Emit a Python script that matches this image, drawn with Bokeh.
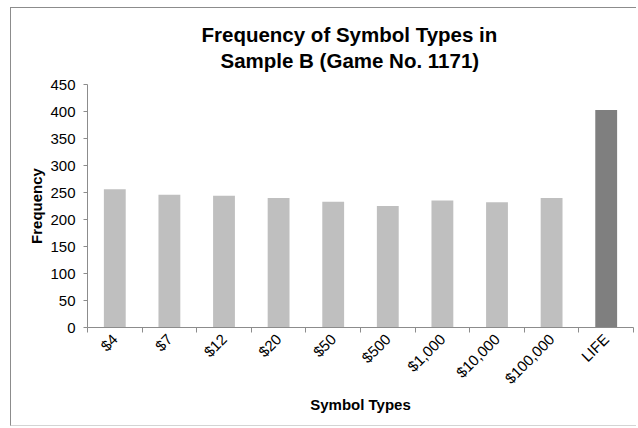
from math import pi

from bokeh.plotting import figure
from bokeh.models import (ColumnDataSource, Range1d, LinearAxis, FixedTicker, Title)
from bokeh.embed import file_html
from bokeh.resources import INLINE

# ---- data ----
categories = ["$4", "$7", "$12", "$20", "$50", "$500", "$1,000", "$10,000", "$100,000", "LIFE"]
frequencies = [256, 246, 244, 240, 233, 225, 235, 232, 240, 403]
y_ticks = [0, 50, 100, 150, 200, 250, 300, 350, 400, 450]
title_lines = ["Frequency of Symbol Types in", "Sample B (Game No. 1171)"]
x_label = "Symbol Types"
y_label = "Frequency"
highlight = "LIFE"

# ---- styles ----
FONT = "Liberation Sans"
BAR = "#BFBFBF"
BAR_HI = "#7F7F7F"
AXIS = "#8C8C8C"

n = len(categories)
centers = [i + 0.5 for i in range(n)]
bounds = list(range(n + 1))
colors = [BAR_HI if c == highlight else BAR for c in categories]
src = ColumnDataSource(dict(x=centers, cat=categories, freq=frequencies, color=colors))

p = figure(x_range=Range1d(0, n), y_range=Range1d(y_ticks[0], y_ticks[-1]),
           width=626, height=419, output_backend="svg", toolbar_location=None,
           x_axis_location=None, y_axis_location=None,
           min_border_left=76, min_border_right=4, min_border_top=76, min_border_bottom=100)
p.title.text = title_lines[0]
p.title.align = "left"
p.title.offset = 114
p.title.text_font = FONT
p.title.text_font_size = "20.5px"
p.title.text_font_style = "bold"
p.title.text_color = "black"
p.title.standoff = -22
p.outline_line_color = None
p.grid.visible = False
p.background_fill_color = "white"
p.border_fill_color = "white"
p.styles = {"margin-left": "10px", "margin-top": "7px",
            "border-left": "1px solid #8c8c8c", "border-top": "1px solid #8c8c8c",
            "border-bottom": "1px solid #d4d4d4"}

p.vbar(x="x", top="freq", width=0.4, fill_color="color", line_color=None, source=src)

# category labels at bar centres, tick marks at category boundaries
x_axis = LinearAxis(ticker=FixedTicker(ticks=centers, minor_ticks=bounds),
                    major_label_overrides={x: c for x, c in zip(centers, categories)},
                    major_tick_line_color=None,
                    minor_tick_line_color=AXIS, minor_tick_out=5, minor_tick_in=0,
                    axis_line_color=AXIS,
                    major_label_orientation=pi / 4, major_label_standoff=3,
                    major_label_text_font=FONT, major_label_text_font_size="15px",
                    major_label_text_color="black",
                    axis_label=x_label, axis_label_text_font=FONT,
                    axis_label_text_font_size="15px", axis_label_text_font_style="bold",
                    axis_label_text_color="black", axis_label_standoff=0)
p.add_layout(x_axis, "below")

y_axis = LinearAxis(ticker=FixedTicker(ticks=y_ticks), minor_tick_line_color=None,
                    major_tick_out=4, major_tick_in=0, major_label_standoff=8,
                    axis_line_color=AXIS, major_tick_line_color=AXIS,
                    major_label_text_font=FONT, major_label_text_font_size="15px",
                    major_label_text_color="black",
                    axis_label=y_label, axis_label_text_font=FONT,
                    axis_label_text_font_size="15px", axis_label_text_font_style="bold",
                    axis_label_text_color="black", axis_label_standoff=2)
p.add_layout(y_axis, "left")

p.add_layout(Title(text=title_lines[1], align="left", offset=133, text_font=FONT,
                   text_font_size="20.5px", text_font_style="bold", text_color="black",
                   standoff=25), "above")

open("out.html", "w").write(file_html(p, INLINE))
